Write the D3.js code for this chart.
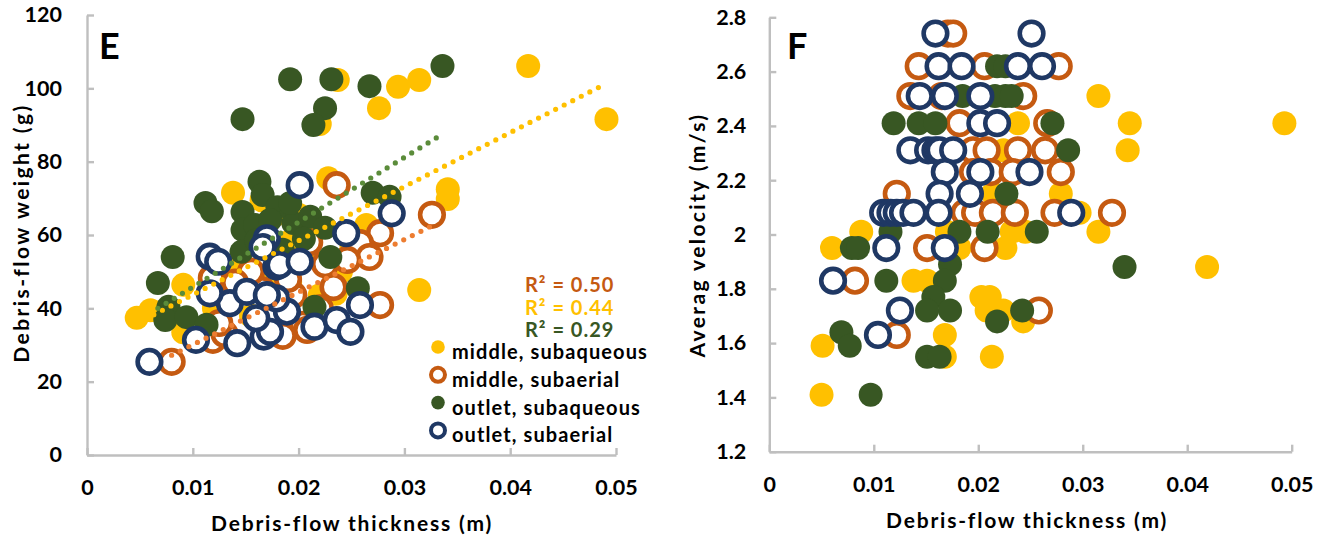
<!DOCTYPE html>
<html>
<head>
<meta charset="utf-8">
<script src="https://cdn.jsdelivr.net/npm/d3@7"></script>
<style>
  html, body { margin: 0; padding: 0; background: #fff; }
  svg { display: block; font-family: Lato, "Open Sans", sans-serif; font-weight: 700; }
</style>
</head>
<body>
<svg id="chart" width="1328" height="543"></svg>
<script>
// ---- Panel E: debris-flow weight (g) vs thickness (m) ----
const weightMiddleSubaqueous = [
  [0.0417,106.1],[0.0491,91.6],[0.0294,100.4],[0.0314,102.3],[0.0276,94.6],[0.0237,102.3],
  [0.0220,90.3],[0.0341,72.5],[0.0341,69.8],[0.0314,45.0],[0.0138,71.5],[0.0165,69.5],
  [0.0178,65.5],[0.0091,46.4],[0.0047,37.4],[0.0060,39.5],[0.0091,33.5],[0.0228,75.5],
  [0.0264,62.7],[0.0160,60.0],[0.0190,58.0],[0.0210,55.0],[0.0240,50.0],[0.0170,48.0],
  [0.0130,45.0],[0.0220,62.0],[0.0250,57.0],[0.0120,40.0],[0.0145,52.0],[0.0200,65.5],
  [0.0185,47.0],[0.0235,44.0],[0.0155,38.0],[0.0220,43.6],[0.0192,47.2]
];
const weightMiddleSubaerial = [
  [0.0326,65.5],[0.0236,73.6],[0.0277,60.5],[0.0258,57.8],[0.0267,54.0],[0.0246,53.2],
  [0.0277,40.9],[0.0233,45.8],[0.0204,35.5],[0.0080,25.4],[0.0119,31.4],[0.0118,48.3],
  [0.0195,43.6],[0.0208,34.1],[0.0165,45.0],[0.0155,50.0],[0.0190,48.0],[0.0220,40.0],
  [0.0175,37.0],[0.0130,33.0],[0.0225,52.0],[0.0210,58.0],[0.0140,47.0],[0.0185,32.5],
  [0.0125,36.0]
];
const weightOutletSubaqueous = [
  [0.0192,102.5],[0.0231,102.5],[0.0267,100.6],[0.0336,106.1],[0.0147,91.6],[0.0225,94.6],
  [0.0214,90.0],[0.0112,68.7],[0.0118,66.5],[0.0163,74.5],[0.0166,70.9],[0.0147,66.3],
  [0.0147,61.4],[0.0081,54.0],[0.0067,46.9],[0.0077,40.4],[0.0074,36.8],[0.0094,37.6],
  [0.0113,35.5],[0.0270,71.5],[0.0286,70.4],[0.0230,54.0],[0.0195,63.3],[0.0211,65.0],
  [0.0180,67.6],[0.0192,68.7],[0.0256,45.5],[0.0215,40.4],[0.0159,62.7],[0.0173,64.1],
  [0.0146,55.4],[0.0205,59.0],[0.0185,56.0],[0.0160,58.5],[0.0225,62.0]
];
const weightOutletSubaerial = [
  [0.0059,25.4],[0.0103,31.4],[0.0142,30.5],[0.0167,32.3],[0.0116,54.1],[0.0124,52.7],
  [0.0135,41.4],[0.0151,44.5],[0.0170,59.1],[0.0166,56.7],[0.0179,51.4],[0.0182,51.8],
  [0.0201,52.7],[0.0201,73.6],[0.0245,60.5],[0.0288,65.9],[0.0215,35.0],[0.0236,36.8],
  [0.0249,33.6],[0.0258,40.9],[0.0189,39.1],[0.0179,42.7],[0.0173,33.6],[0.0116,44.1],
  [0.0170,43.6],[0.0160,37.3]
];
// linear trendlines (start and end points)
const trendMiddleSubaqueous = [[0.0047,35.9],[0.0490,101.2]];
const trendMiddleSubaerial  = [[0.0080,27.2],[0.0326,62.5]];
const trendOutletSubaqueous = [[0.0067,40.0],[0.0337,87.7]];
const rSquaredLabels = ["R² = 0.50","R² = 0.44","R² = 0.29"];

// ---- Panel F: average velocity (m/s) vs thickness (m) ----
const velocityMiddleSubaqueous = [
  [0.0315,2.51],[0.0238,2.41],[0.0345,2.41],[0.0493,2.41],[0.0224,2.31],[0.0343,2.31],
  [0.0214,2.15],[0.0279,2.15],[0.0297,2.08],[0.0088,2.01],[0.0170,2.01],[0.0232,2.01],
  [0.0245,2.01],[0.0315,2.01],[0.0060,1.95],[0.0182,1.95],[0.0226,1.95],[0.0419,1.88],
  [0.0138,1.83],[0.0151,1.83],[0.0203,1.77],[0.0211,1.77],[0.0208,1.72],[0.0224,1.72],
  [0.0243,1.68],[0.0168,1.63],[0.0051,1.59],[0.0168,1.55],[0.0213,1.55],[0.0050,1.41]
];
const velocityMiddleSubaerial = [
  [0.0171,2.74],[0.0176,2.74],[0.0143,2.62],[0.0206,2.62],[0.0277,2.62],[0.0135,2.51],
  [0.0165,2.51],[0.0243,2.51],[0.0182,2.41],[0.0266,2.41],[0.0195,2.31],[0.0208,2.31],
  [0.0238,2.31],[0.0264,2.31],[0.0195,2.23],[0.0212,2.23],[0.0233,2.23],[0.0279,2.23],
  [0.0122,2.15],[0.0187,2.08],[0.0197,2.08],[0.0214,2.08],[0.0235,2.08],[0.0273,2.08],
  [0.0328,2.08],[0.0151,1.95],[0.0206,1.95],[0.0082,1.83],[0.0258,1.72],[0.0122,1.63]
];
const velocityOutletSubaqueous = [
  [0.0218,2.62],[0.0226,2.62],[0.0185,2.51],[0.0199,2.51],[0.0216,2.51],[0.0226,2.51],
  [0.0232,2.51],[0.0119,2.41],[0.0143,2.41],[0.0159,2.41],[0.0271,2.41],[0.0286,2.31],
  [0.0160,2.31],[0.0227,2.15],[0.0116,2.01],[0.0182,2.01],[0.0209,2.01],[0.0256,2.01],
  [0.0079,1.95],[0.0085,1.95],[0.0173,1.89],[0.0340,1.88],[0.0112,1.83],[0.0168,1.83],
  [0.0157,1.77],[0.0151,1.72],[0.0173,1.72],[0.0242,1.72],[0.0218,1.68],[0.0069,1.64],
  [0.0077,1.59],[0.0151,1.55],[0.0163,1.55],[0.0097,1.41]
];
const velocityOutletSubaerial = [
  [0.0159,2.74],[0.0251,2.74],[0.0162,2.62],[0.0184,2.62],[0.0238,2.62],[0.0261,2.62],
  [0.0144,2.51],[0.0168,2.51],[0.0202,2.51],[0.0202,2.41],[0.0218,2.41],[0.0135,2.31],
  [0.0152,2.31],[0.0159,2.31],[0.0163,2.31],[0.0176,2.31],[0.0168,2.23],[0.0202,2.23],
  [0.0249,2.23],[0.0163,2.15],[0.0192,2.15],[0.0109,2.08],[0.0116,2.08],[0.0122,2.08],
  [0.0128,2.08],[0.0138,2.08],[0.0162,2.08],[0.0289,2.08],[0.0112,1.95],[0.0168,1.95],
  [0.0061,1.83],[0.0125,1.72],[0.0104,1.63]
];

// ---- ticks and labels ----
const thicknessTicks = [0, 0.01, 0.02, 0.03, 0.04, 0.05];
const thicknessTickLabels = ["0", "0.01", "0.02", "0.03", "0.04", "0.05"];
const weightTicks = [0, 20, 40, 60, 80, 100, 120];
const velocityTicks = [1.2, 1.4, 1.6, 1.8, 2.0, 2.2, 2.4, 2.6, 2.8];
const velocityTickLabels = ["1.2", "1.4", "1.6", "1.8", "2", "2.2", "2.4", "2.6", "2.8"];
const legendLabels = ["middle, subaqueous", "middle, subaerial", "outlet, subaqueous", "outlet, subaerial"];

const COLORS = {
  yellow: "#FFC000", orange: "#C55A11", green: "#385723", navy: "#1F3864",
  trendOrange: "#ED7D31", trendYellow: "#FFC000", trendGreen: "#5B8C3A",
  axis: "#BFBFBF"
};

const svg = d3.select("#chart");

function drawAxes(g, x, y, xTicks, xLabels, yTicks, yLabels, yPad) {
  const xAxis = d3.axisBottom(x).tickValues(xTicks)
    .tickFormat((d, i) => xLabels[i]).tickSizeInner(-7).tickSizeOuter(0).tickPadding(25);
  const yAxis = d3.axisLeft(y).tickValues(yTicks)
    .tickFormat((d, i) => yLabels[i]).tickSizeInner(-7).tickSizeOuter(0).tickPadding(yPad);
  const gx = g.append("g").attr("transform", `translate(0,${y.range()[0]})`).call(xAxis);
  const gy = g.append("g").attr("transform", `translate(${x.range()[0]},0)`).call(yAxis);
  [gx, gy].forEach(a => {
    a.selectAll("path, line").attr("stroke", COLORS.axis).attr("stroke-width", 2.4);
    a.selectAll("text").attr("fill", "#000").style("font-size", "21.5px")
      .style("font-family", "Lato, sans-serif").style("font-weight", 700);
  });
  gx.selectAll("text").attr("dy", "0.71em");
}

function drawSeries(g, data, x, y, style) {
  g.append("g").selectAll("circle").data(data).join("circle")
    .attr("cx", d => x(d[0])).attr("cy", d => y(d[1]))
    .attr("r", style.hollow ? 11.8 : 12)
    .attr("fill", style.hollow ? "#fff" : style.color)
    .attr("stroke", style.hollow ? style.color : "none")
    .attr("stroke-width", style.hollow ? 4.6 : 0);
}

function drawTrend(g, pts, x, y, color) {
  g.append("line")
    .attr("x1", x(pts[0][0])).attr("y1", y(pts[0][1]))
    .attr("x2", x(pts[1][0])).attr("y2", y(pts[1][1]))
    .attr("stroke", color).attr("stroke-width", 5.2)
    .attr("stroke-linecap", "round").attr("stroke-dasharray", "0 9.6");
}

const styles = [
  { color: COLORS.yellow, hollow: false },
  { color: COLORS.orange, hollow: true },
  { color: COLORS.green, hollow: false },
  { color: COLORS.navy, hollow: true }
];

function axisTitle(g, x, y, rotate, text) {
  g.append("text")
    .attr("transform", `translate(${x},${y})` + (rotate ? " rotate(-90)" : ""))
    .attr("text-anchor", "middle").attr("fill", "#000")
    .style("font-size", "21px").style("letter-spacing", rotate ? "2.4px" : "1.8px").text(text);
}

// ================= Panel E =================
const xE = d3.scaleLinear().domain([0, 0.05]).range([87, 616]);
const yE = d3.scaleLinear().domain([0, 120]).range([455, 15]);
const gE = svg.append("g");
drawAxes(gE, xE, yE, thicknessTicks, thicknessTickLabels, weightTicks, weightTicks.map(String), 25);

[weightMiddleSubaqueous, weightMiddleSubaerial, weightOutletSubaqueous, weightOutletSubaerial]
  .forEach((s, i) => drawSeries(gE, s, xE, yE, styles[i]));

drawTrend(gE, trendMiddleSubaqueous, xE, yE, COLORS.trendYellow);
drawTrend(gE, trendMiddleSubaerial, xE, yE, COLORS.trendOrange);
drawTrend(gE, trendOutletSubaqueous, xE, yE, COLORS.trendGreen);

gE.append("text").attr("x", 99).attr("y", 59).text("E")
  .style("font-size", "36px").attr("fill", "#000");

// R² labels
const r2Colors = [COLORS.orange, COLORS.yellow, COLORS.green];
rSquaredLabels.forEach((t, i) => {
  gE.append("text").attr("x", 525).attr("y", 292 + i * 22.5).text(t)
    .attr("fill", r2Colors[i]).style("font-size", "20px").style("letter-spacing", "1px");
});

// legend
legendLabels.forEach((t, i) => {
  const cy = 347 + i * 27.8;
  const st = styles[i];
  gE.append("circle").attr("cx", 438).attr("cy", cy)
    .attr("r", st.hollow ? 7 : 6.8)
    .attr("fill", st.hollow ? "#fff" : st.color)
    .attr("stroke", st.hollow ? st.color : "none")
    .attr("stroke-width", st.hollow ? 4 : 0);
  gE.append("text").attr("x", 452).attr("y", cy + 12).text(t)
    .attr("fill", "#000").style("font-size", "20px").style("letter-spacing", "1.1px");
});

axisTitle(gE, 352, 531, false, "Debris-flow thickness (m)");
axisTitle(gE, 29, 233, true, "Debris-flow weight (g)");

// ================= Panel F =================
const xF = d3.scaleLinear().domain([0, 0.05]).range([769.3, 1291.7]);
const yF = d3.scaleLinear().domain([1.2, 2.8]).range([451.7, 17.3]);
const gF = svg.append("g");
drawAxes(gF, xF, yF, thicknessTicks, thicknessTickLabels, velocityTicks, velocityTickLabels, 23);

[velocityMiddleSubaqueous, velocityMiddleSubaerial, velocityOutletSubaqueous, velocityOutletSubaerial]
  .forEach((s, i) => drawSeries(gF, s, xF, yF, styles[i]));

gF.append("text").attr("x", 787).attr("y", 59).text("F")
  .style("font-size", "36px").attr("fill", "#000");

axisTitle(gF, 1027, 528, false, "Debris-flow thickness (m)");
axisTitle(gF, 705, 235, true, "Averag velocity (m/s)");
</script>
</body>
</html>
